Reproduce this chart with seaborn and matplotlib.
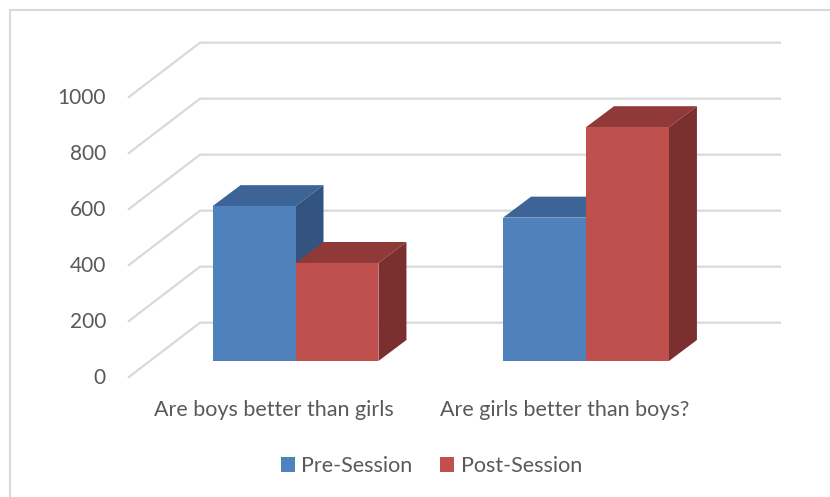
import seaborn as sns
import pandas as pd
import matplotlib.pyplot as plt
from matplotlib.patches import Polygon, Patch
from matplotlib.lines import Line2D

# data
questions = ["Are boys better than girls", "Are girls better than boys?"]
sessions = ["Pre-Session", "Post-Session"]
pre_values = [553, 512]
post_values = [350, 835]
y_ticks = [0, 200, 400, 600, 800, 1000]

df = pd.DataFrame({
    "question": questions * 2,
    "session": [sessions[0]] * 2 + [sessions[1]] * 2,
    "count": pre_values + post_values,
})

front_colors = {"Pre-Session": "#4F81BD", "Post-Session": "#C0504D"}
top_colors = {"Pre-Session": "#3D6496", "Post-Session": "#8F3A38"}
side_colors = {"Pre-Session": "#33547F", "Post-Session": "#7B302F"}
text_color = "#595959"
grid_color = "#D9D9D9"

# pixel layout of the 830x497 picture (bar plane = data plane)
W, H = 830, 497
X0_PX, X_STEP_PX = 295.5, 290.5      # category centres
Y0_PX, PX_PER_UNIT = 361, 0.28       # baseline and y scale
BAR_DX, BAR_DY = 28, 21              # bar depth in px
FRONT_DX, FRONT_DY = -21.6, -16.7    # front plane vs bar plane
BACK_DX, BACK_DY = 50.4, 38.3        # back wall vs bar plane
WALL_LEFT_PX, WALL_RIGHT_PX = 128, 781


def px2x(px):
    return (px - X0_PX) / X_STEP_PX


def px2y(py):
    return (Y0_PX - py) / PX_PER_UNIT


ddx = lambda d: d / X_STEP_PX
ddy = lambda d: d / PX_PER_UNIT

sns.set_style("white")
plt.rcParams["font.family"] = ["Lato", "DejaVu Sans"]

fig = plt.figure(figsize=(W / 100, H / 100), dpi=100)
ax = fig.add_axes([0, 0, 1, 1])

sns.barplot(data=df, x="question", y="count", hue="session", order=questions,
            hue_order=sessions, palette=front_colors, width=0.571,
            saturation=1, legend=False, ax=ax)

ax.set_xlim(px2x(0), px2x(W))
ax.set_ylim(px2y(H), px2y(0))
ax.axis("off")

# side wall + back wall gridlines, value labels on the front plane
for v in y_ticks:
    xf, yf = px2x(WALL_LEFT_PX), v + ddy(FRONT_DY)
    xb, yb = xf + ddx(BACK_DX - FRONT_DX), v + ddy(BACK_DY)
    ax.plot([xf, xb, px2x(WALL_RIGHT_PX)], [yf, yb, yb], color=grid_color,
            lw=1.6, zorder=1, solid_capstyle="butt")
    ax.text(px2x(106), yf, str(v), ha="right", va="center",
            fontsize=15, color=text_color)

# 3D faces of the bars
bars = sorted([p for p in ax.patches if p.get_height() > 0], key=lambda p: p.get_x())
for k, p in enumerate(bars):
    x0, w, h = p.get_x(), p.get_width(), p.get_height()
    x1 = x0 + w
    dx, dy = ddx(BAR_DX), ddy(BAR_DY)
    fc = p.get_facecolor()
    session = sessions[0] if fc[2] > fc[0] else sessions[1]
    p.set_zorder(3 + 2 * k)
    p.set_edgecolor("none")
    top = Polygon([(x0, h), (x1, h), (x1 + dx, h + dy), (x0 + dx, h + dy)],
                  closed=True, facecolor=top_colors[session], edgecolor="none",
                  zorder=2 + 2 * k)
    side = Polygon([(x1, 0), (x1, h), (x1 + dx, h + dy), (x1 + dx, dy)],
                   closed=True, facecolor=side_colors[session], edgecolor="none",
                   zorder=2 + 2 * k)
    ax.add_patch(top)
    ax.add_patch(side)

# category labels on the front plane
for i, q in enumerate(questions):
    ax.text(i + ddx(FRONT_DX), px2y(410), q, ha="center", va="center",
            fontsize=15.5, color=text_color)

handles = [Patch(facecolor=front_colors[s], edgecolor="none") for s in sessions]
fig.legend(handles, sessions, loc="center", bbox_to_anchor=(431.5 / W, 1 - 466 / H),
           ncol=2, frameon=False, fontsize=15.5, labelcolor=text_color,
           handlelength=0.65, handleheight=0.65, handletextpad=0.3,
           columnspacing=1.3)

# chart area border
fig.add_artist(Line2D([10 / W, 1], [1 - 10 / H, 1 - 10 / H], color=grid_color,
                      lw=1.5, transform=fig.transFigure))
fig.add_artist(Line2D([10 / W, 10 / W], [0, 1 - 10 / H], color=grid_color,
                      lw=1.5, transform=fig.transFigure))

fig.savefig("out.png", dpi=100)
